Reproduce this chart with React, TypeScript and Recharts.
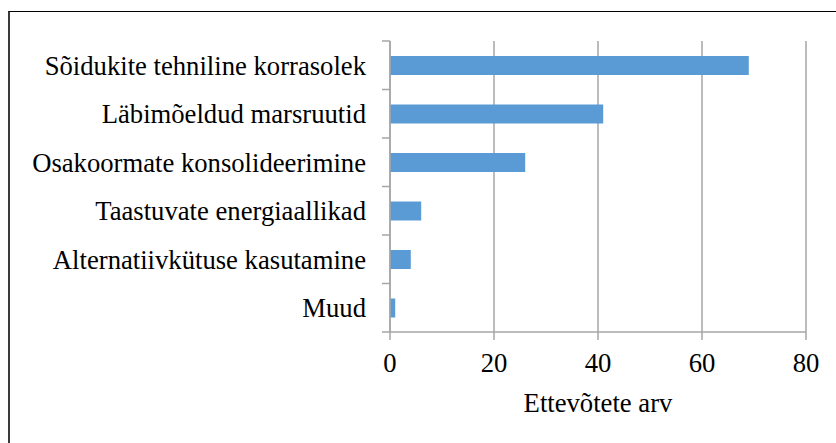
import React from 'react'
import { BarChart, Bar, XAxis, YAxis, CartesianGrid } from 'recharts'

const categories = [
  'Sõidukite tehniline korrasolek',
  'Läbimõeldud marsruutid',
  'Osakoormate konsolideerimine',
  'Taastuvate energiaallikad',
  'Alternatiivkütuse kasutamine',
  'Muud',
]
const companies = [69, 41, 26, 6, 4, 1]
const xTicks = [0, 20, 40, 60, 80]
const xTitle = 'Ettevõtete arv'

const data = categories.map((name, i) => ({ name, value: companies[i] }))

const gridColor = '#a6a6a6'
const serif = '"Liberation Serif", serif'
const textStyle = { fontFamily: serif, fontSize: 26.67 }

const chartW = 826
const chartH = 431
const margin = { top: 29, right: 30, left: 0, bottom: 21 }
const xAxisH = 90
const labelGap = 24
const tickLen = 8
// height of one category row, from the plot height
const rowH = (chartH - margin.top - margin.bottom - xAxisH) / categories.length

const RowTick = (props: any) => {
  const { x, y, payload, index } = props
  const ax = x + labelGap
  return (
    <g>
      <line x1={ax - tickLen} x2={ax} y1={y - rowH / 2} y2={y - rowH / 2} stroke={gridColor} strokeWidth={1.5} />
      {index === categories.length - 1 && (
        <line x1={ax - tickLen} x2={ax} y1={y + rowH / 2} y2={y + rowH / 2} stroke={gridColor} strokeWidth={1.5} />
      )}
      <text x={x} y={y} dy="0.35em" textAnchor="end" fill="#000" style={textStyle}>
        {payload.value}
      </text>
    </g>
  )
}

const ValueTick = (props: any) => {
  const { x, y, payload } = props
  return (
    <text x={x} y={y} dy="0.71em" textAnchor="middle" fill="#000" style={textStyle}>
      {payload.value}
    </text>
  )
}

const App: React.FC = () => {
  return (
    <div
      style={{
        position: 'absolute',
        left: 8,
        top: 11,
        width: 840,
        height: 440,
        borderTop: '1px solid #000',
        borderLeft: '2px solid #3a3a3a',
        fontFamily: serif,
      }}
    >
      <BarChart width={chartW} height={chartH} data={data} layout="vertical" margin={margin}>
        <CartesianGrid horizontal={false} stroke={gridColor} strokeWidth={1.5} />
        <XAxis
          type="number"
          domain={[0, 80]}
          ticks={xTicks}
          height={xAxisH}
          tick={<ValueTick />}
          tickSize={8}
          tickMargin={13}
          stroke={gridColor}
          axisLine={{ stroke: gridColor, strokeWidth: 1.5 }}
          tickLine={{ stroke: gridColor, strokeWidth: 1.5 }}
          label={{ value: xTitle, position: 'insideBottom', offset: 10, fill: '#000', style: textStyle }}
        />
        <YAxis
          type="category"
          dataKey="name"
          width={380}
          axisLine={{ stroke: gridColor, strokeWidth: 1.5 }}
          tickLine={false}
          tickSize={0}
          tickMargin={labelGap}
          tick={<RowTick />}
          interval={0}
        />
        <Bar dataKey="value" fill="#5b9bd5" barSize={19} isAnimationActive={false} />
      </BarChart>
    </div>
  )
}

export default App
